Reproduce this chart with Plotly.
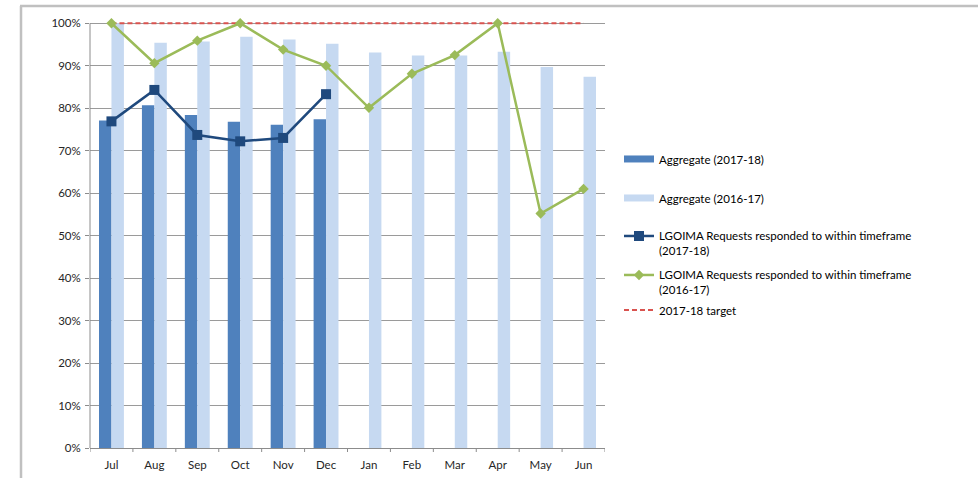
import plotly.graph_objects as go

months = ["Jul", "Aug", "Sep", "Oct", "Nov", "Dec", "Jan", "Feb", "Mar", "Apr", "May", "Jun"]

# Aggregate results (fractions)
aggregate_2017_18 = [0.771, 0.807, 0.784, 0.768, 0.761, 0.774]
aggregate_2016_17 = [1.000, 0.954, 0.957, 0.968, 0.962, 0.952, 0.931, 0.924, 0.924, 0.933, 0.897, 0.874]

# LGOIMA requests responded to within timeframe
lgoima_2017_18 = [0.769, 0.843, 0.737, 0.722, 0.730, 0.833]
lgoima_2016_17 = [1.000, 0.906, 0.959, 1.000, 0.938, 0.900, 0.801, 0.881, 0.925, 1.000, 0.552, 0.610]

# 2017-18 target
target_2017_18 = [1.0] * 12

y_ticks = [i / 10 for i in range(11)]
y_tick_text = [f"{i * 10}%" for i in range(11)]

FONT = "Lato, 'Liberation Sans', sans-serif"
FONT_SIZE = 11.5
DARK_BAR = "#4f81bd"
LIGHT_BAR = "#c6d9f1"
AXIS_GREY = "#8c8c8c"

# plot area geometry (px)
PLOT_TOP, PLOT_BOTTOM = 19, 448
PLOT_H = PLOT_BOTTOM - PLOT_TOP
Y_MAX = 1.01  # a little headroom so the 100% lines are not clipped

fig = go.Figure()

fig.add_trace(go.Bar(
    x=months[:len(aggregate_2017_18)], y=aggregate_2017_18,
    name="Aggregate (2017-18)", marker=dict(color=DARK_BAR, line=dict(width=0)),
    showlegend=False,
))
fig.add_trace(go.Bar(
    x=months, y=aggregate_2016_17,
    name="Aggregate (2016-17)", marker=dict(color=LIGHT_BAR, line=dict(width=0)),
    showlegend=False,
))
# wide legend keys for the two bar series
fig.add_trace(go.Scatter(
    x=[None], y=[None], mode="lines", name="Aggregate (2017-18)",
    line=dict(color=DARK_BAR, width=7), legend="legend",
))
fig.add_trace(go.Scatter(
    x=[None], y=[None], mode="lines", name="Aggregate (2016-17)",
    line=dict(color=LIGHT_BAR, width=7), legend="legend2",
))
fig.add_trace(go.Scatter(
    x=months, y=target_2017_18, mode="lines",
    name="2017-18 target",
    line=dict(color="#d9534f", width=2, dash="5px,3px"),
    legend="legend5",
))
fig.add_trace(go.Scatter(
    x=months[:len(lgoima_2017_18)], y=lgoima_2017_18, mode="lines+markers",
    name="LGOIMA Requests responded to within timeframe<br>(2017-18)",
    line=dict(color="#1f497d", width=2.5),
    marker=dict(symbol="square", size=10, color="#1f497d"),
    cliponaxis=False, legend="legend3",
))
fig.add_trace(go.Scatter(
    x=months, y=lgoima_2016_17, mode="lines+markers",
    name="LGOIMA Requests responded to within timeframe<br>(2016-17)",
    line=dict(color="#9bbb59", width=2.5),
    marker=dict(symbol="diamond", size=8, color="#9bbb59"),
    cliponaxis=False, legend="legend4",
))


def py(px):
    """Convert a pixel row to paper y."""
    return (PLOT_BOTTOM - px) / PLOT_H


def px_x(px):
    """Convert a pixel column to paper x."""
    return (px - 90) / 515


# chart frame (top and left edges)
fig.add_shape(type="line", xref="paper", yref="paper",
              x0=px_x(20), x1=px_x(990), y0=py(6), y1=py(6),
              line=dict(color="#c0c0c0", width=2.5))
fig.add_shape(type="line", xref="paper", yref="paper",
              x0=px_x(21), x1=px_x(21), y0=py(6), y1=py(490),
              line=dict(color="#c0c0c0", width=2.5))
# value axis line, from 0% to 100%
fig.add_shape(type="line", xref="paper", yref="y",
              x0=0, x1=0, y0=0, y1=1,
              line=dict(color=AXIS_GREY, width=1))


def legend_box(top_px):
    return dict(
        xref="container", yref="container",
        x=619 / 978, y=1 - top_px / 478, xanchor="left", yanchor="top",
        font=dict(size=FONT_SIZE, color="#000000"),
        itemwidth=30, valign="top",
        bgcolor="rgba(0,0,0,0)",
    )


fig.update_layout(
    width=978, height=478,
    margin=dict(l=90, r=373, t=PLOT_TOP, b=478 - PLOT_BOTTOM, autoexpand=False),
    paper_bgcolor="white", plot_bgcolor="white",
    barmode="group", bargap=0.42, bargroupgap=0,
    font=dict(family=FONT, size=FONT_SIZE, color="#262626"),
    showlegend=True,
    legend=legend_box(145),
    legend2=legend_box(184),
    legend3=legend_box(222),
    legend4=legend_box(261),
    legend5=legend_box(296),
    xaxis=dict(
        type="category", categoryorder="array", categoryarray=months,
        showgrid=False, showline=True, linecolor=AXIS_GREY, linewidth=1,
        ticks="", tickfont=dict(size=FONT_SIZE, color="#262626"),
        ticklabelstandoff=6,
        range=[-0.5, 11.5], fixedrange=True,
    ),
    yaxis=dict(
        range=[0, Y_MAX], tickvals=y_ticks, ticktext=y_tick_text,
        showgrid=True, gridcolor="#9a9a9a", gridwidth=1,
        showline=False,
        ticks="outside", ticklen=4, tickcolor=AXIS_GREY,
        ticklabelstandoff=2,
        tickfont=dict(size=FONT_SIZE, color="#262626"), zeroline=False,
        fixedrange=True,
    ),
)

# category separators on the x axis
for i in range(13):
    fig.add_shape(type="line", xref="x", yref="paper",
                  x0=i - 0.5, x1=i - 0.5, y0=0, y1=-4 / PLOT_H,
                  line=dict(color=AXIS_GREY, width=1))

fig.write_html("out.html")
